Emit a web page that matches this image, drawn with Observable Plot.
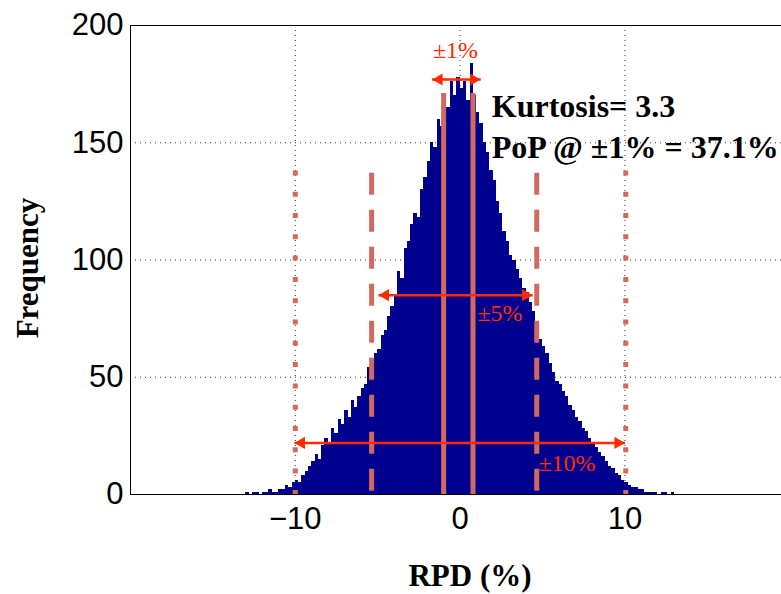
<!DOCTYPE html>
<html><head><meta charset="utf-8">
<script src="https://cdn.jsdelivr.net/npm/d3@7"></script>
<script src="https://cdn.jsdelivr.net/npm/@observablehq/plot@0.6"></script>
<style>body{margin:0;background:#fff;} svg{display:block;}</style>
</head><body><div id="chart"></div>
<script>
// Histogram of RPD (%) — bins of width 0.2 starting at -13
const binLow = -13, binWidth = 0.2;
const counts = [
  1,0,1,1,0,1,1,2,1,1, 2,2,4,3,5,6,5,8,10,12,
  14,17,15,21,24,22,28,26,32,30, 36,33,40,37,42,45,47,54,52,60,
  62,68,70,76,80,85,95,92,105,108, 115,120,118,130,135,142,150,148,160,157,
  168,165,176,170,178,
  173,176,168,184,170,163,158,150,146,138, 134,125,120,112,108,102,100,96,92,88,
  86,82,78,72,66,63,60,56,52,48, 47,44,42,38,36,33,31,28,27,24,
  22,20,18,16,14,12,11,9,8,6, 5,4,3,3,2,2,1,1,1,1,
  0,1,1,0,1
];
const xTicks = [-10, 0, 10];
const yTicks = [0, 50, 100, 150, 200];
const gridX = [-10, 0, 10];
const gridY = [50, 100, 150];
// reference limits drawn on the chart
const solidLines  = [-1, 0.78];    const solidTop = 171;
const dashedLines = [-5.37, 4.65]; const dashedTop = 137;
const dottedLines = [-10, 10.05];  const dottedTop = 138;
// double arrows: [from, to, level]
const arrows = [
  {x1: -1.7, x2: 1.25, y: 177},
  {x1: -4.95, x2: 4.4, y: 85},
  {x1: -10.05, x2: 10.0, y: 22}
];
const bandLabels = [
  {text: "±1%", x: -0.28, y: 186, anchor: "middle"},
  {text: "±5%", x: 1.05, y: 74, anchor: "start"},
  {text: "±10%", x: 4.75, y: 10, anchor: "start"}
];
const statLabels = [
  {text: "Kurtosis= 3.3", x: 1.92, y: 160.8},
  {text: "PoP @ ±1% = 37.1%", x: 1.92, y: 143.3}
];

const bins = counts.map((c, i) => ({
  x1: +(binLow + i * binWidth).toFixed(2),
  x2: +(binLow + (i + 1) * binWidth).toFixed(2),
  y: c
}));
const salmon = "#cf6a60";
const red = "#ff2a00";
const serif = "Liberation Serif, Times New Roman, serif";

const chart = Plot.plot({
  width: 781, height: 594,
  marginLeft: 130, marginTop: 25, marginBottom: 100, marginRight: 0,
  x: {domain: [-20, 19.5]},
  y: {domain: [0, 200]},
  style: {fontFamily: "Liberation Sans, Arial, sans-serif", fontSize: "31px", color: "#000", background: "#fff"},
  marks: [
    Plot.ruleY(gridY, {stroke: "#333", strokeDasharray: "1,4", strokeWidth: 1}),
    Plot.ruleX(gridX, {stroke: "#333", strokeDasharray: "1,4", strokeWidth: 1}),
    Plot.rectY(bins, {x1: "x1", x2: "x2", y: "y", fill: "#00008f", inset: 0, shapeRendering: "crispEdges"}),
    Plot.ruleX(solidLines, {y1: 0, y2: solidTop, stroke: salmon, strokeWidth: 5}),
    Plot.ruleX(dashedLines, {y1: dashedTop, y2: 0, stroke: salmon, strokeWidth: 5, strokeDasharray: "22,15"}),
    Plot.ruleX(dottedLines, {y1: dottedTop, y2: 0, stroke: salmon, strokeWidth: 5, strokeDasharray: "5,16.3"}),
    Plot.link(arrows, {x1: "x1", x2: "x2", y1: "y", y2: "y", stroke: red, strokeWidth: 2.5}),
    Plot.dot(arrows, {x: "x1", y: "y", symbol: "triangle", rotate: -90, r: 4.5, fill: red, stroke: "none", dx: 7}),
    Plot.dot(arrows, {x: "x2", y: "y", symbol: "triangle", rotate: 90, r: 4.5, fill: red, stroke: "none", dx: -7}),
    Plot.text(bandLabels, {x: "x", y: "y", text: "text", textAnchor: "middle", lineAnchor: "bottom", fill: red, fontFamily: serif, fontSize: 24,
      filter: d => d.anchor === "middle"}),
    Plot.text(bandLabels, {x: "x", y: "y", text: "text", textAnchor: "start", lineAnchor: "bottom", fill: red, fontFamily: serif, fontSize: 24,
      filter: d => d.anchor === "start"}),
    Plot.text(statLabels, {x: "x", y: "y", text: "text", textAnchor: "start", lineAnchor: "bottom", fill: "#000", fontFamily: serif, fontSize: 32, fontWeight: "bold"}),
    Plot.ruleY([0, 200], {stroke: "#000", strokeWidth: 1}),
    Plot.ruleX([-20], {stroke: "#000", strokeWidth: 1}),
    Plot.axisY(yTicks, {tickSize: 0, tickPadding: 7, label: null}),
    Plot.axisX(xTicks, {tickSize: 0, tickPadding: 12, label: null, tickFormat: d => d < 0 ? "\u2212" + Math.abs(d) : String(d)}),
    Plot.text(["Frequency"], {frameAnchor: "left", dx: -102, dy: 8, rotate: -90, textAnchor: "middle", fontFamily: serif, fontSize: 31, fontWeight: "bold", fill: "#000"}),
    Plot.text(["RPD (%)"], {frameAnchor: "bottom", dx: 14, dy: 91, fontFamily: serif, fontSize: 31, fontWeight: "bold", fill: "#000"})
  ]
});
document.getElementById("chart").appendChild(chart);
</script>
</body></html>
